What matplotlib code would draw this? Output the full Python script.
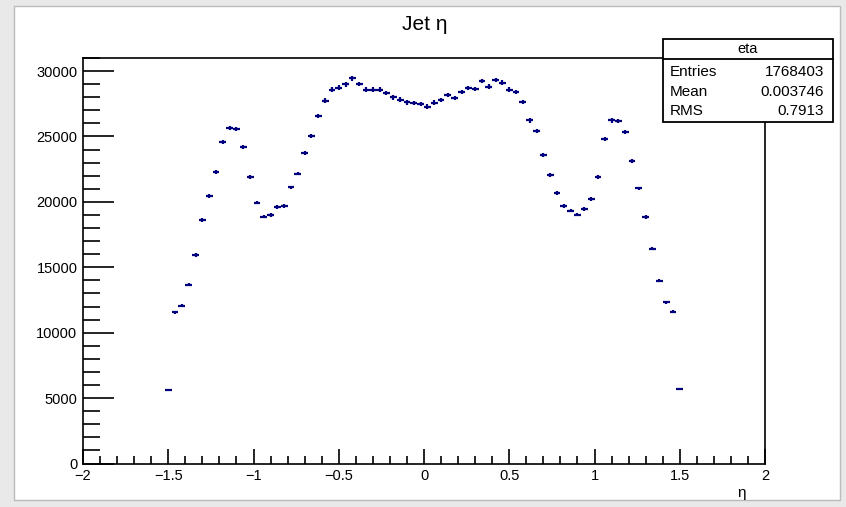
import numpy as np
import matplotlib
matplotlib.use("Agg")
from matplotlib import pyplot as plt
from matplotlib.patches import Rectangle
from matplotlib.ticker import MultipleLocator

plt.rcParams['font.family'] = ['Liberation Sans', 'DejaVu Sans']

# Jet eta histogram, 100 bins on [-2, 2], only bins between -1.5 and 1.5 filled
bin_width = 0.04
eta_centers = np.round(np.arange(-1.50, 1.50 + 1e-9, bin_width), 2)
counts = [5650, 11560, 12070, 13650, 15950, 18630, 20440, 22300, 24600, 25620,
          25580, 24200, 21900, 19950, 18880, 18990, 19600, 19700, 21100, 22170,
          23740, 25060, 26540, 27740, 28580, 28740, 28990, 29450, 29020, 28580,
          28580, 28580, 28330, 27990, 27820, 27610, 27540, 27490, 27280, 27590,
          27770, 28150, 27950, 28380, 28710, 28640, 29250, 28810, 29330, 29120,
          28580, 28380, 27640, 26230, 25390, 23580, 22050, 20690, 19700, 19340,
          19035, 19470, 20210, 21920, 24830, 26230, 26190, 25340, 23090, 21030,
          18860, 16430, 13980, 12330, 11590, 5710]

stats_name = "eta"
stats_labels = ["Entries", "Mean", "RMS"]
stats_values = ["1768403", "0.003746", "0.7913"]

W, H = 846, 507
fig = plt.figure(figsize=(W / 100, H / 100), dpi=100)
fig.patch.set_facecolor('#e9e9e9')
fig.patches.append(Rectangle((14 / W, 1 - 500 / H), (840 - 14) / W, (500 - 6) / H,
                             transform=fig.transFigure, facecolor='white',
                             edgecolor='#bbbbbb', lw=1, zorder=-5))

ax = fig.add_axes([83 / W, 1 - 463.5 / H, (765 - 83) / W, (463.5 - 58) / H])
ax.errorbar(eta_centers, counts, xerr=bin_width / 2, yerr=np.sqrt(counts),
            fmt='none', ecolor='#00007f', elinewidth=1.6, capsize=0)

ax.set_xlim(-2, 2)
ax.set_ylim(0, 31000)
ax.xaxis.set_major_locator(MultipleLocator(0.5))
ax.xaxis.set_minor_locator(MultipleLocator(0.1))
ax.yaxis.set_major_locator(MultipleLocator(5000))
ax.yaxis.set_minor_locator(MultipleLocator(1000))
ax.tick_params(axis='x', which='major', direction='in', length=11, width=1.2,
               labelsize=10.5, pad=4, top=False)
ax.tick_params(axis='x', which='minor', direction='in', length=5.5, width=1.2, top=False)
ax.tick_params(axis='y', which='major', direction='in', length=22, width=1.2,
               labelsize=10.5, pad=4, right=False)
ax.tick_params(axis='y', which='minor', direction='in', length=12, width=1.2, right=False)
ax.xaxis.set_major_formatter(plt.FuncFormatter(lambda v, p: f"{v:g}".replace('-', '\u2212')))
for s in ax.spines.values():
    s.set_linewidth(1.2)

fig.text(425 / W, 1 - 25 / H, "Jet \u03b7", ha='center', va='center', fontsize=15)
fig.text(742 / W, 1 - 493 / H, "\u03b7", ha='center', va='center', fontsize=11)

# stats box
bx0, bx1, by0, by1, byh = 663, 833, 39, 122, 59
fig.patches.append(Rectangle((bx0 / W, 1 - by1 / H), (bx1 - bx0) / W, (by1 - by0) / H,
                             transform=fig.transFigure, facecolor='white',
                             edgecolor='black', lw=1.3, zorder=5))
fig.lines.append(plt.Line2D([bx0 / W, bx1 / W], [1 - byh / H, 1 - byh / H],
                            transform=fig.transFigure, color='black', lw=1.3, zorder=6))
fig.text((bx0 + bx1) / 2 / W, 1 - 49 / H, stats_name, ha='center', va='center',
         fontsize=10.5, zorder=7)
for k, (lab, val) in enumerate(zip(stats_labels, stats_values)):
    yy = 1 - (72 + 19.5 * k) / H
    fig.text(670 / W, yy, lab, ha='left', va='center', fontsize=11, zorder=7)
    fig.text(824 / W, yy, val, ha='right', va='center', fontsize=11, zorder=7)

fig.savefig("out.png", dpi=100, facecolor=fig.get_facecolor())
